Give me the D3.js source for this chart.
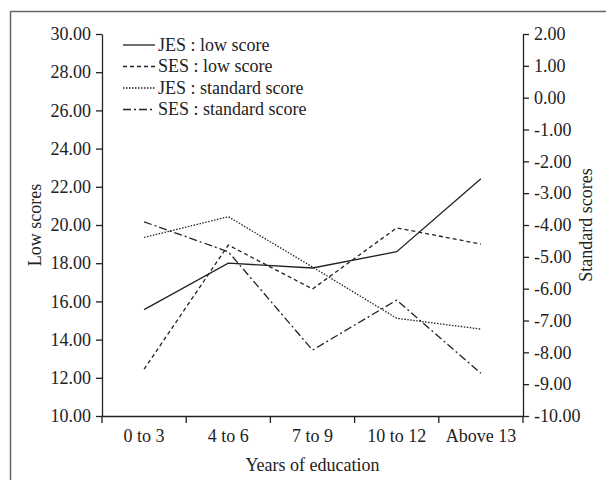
<html>
<head>
<meta charset="utf-8">
<script src="https://d3js.org/d3.v7.min.js"></script>
<style>
body { margin: 0; background: #fff; }
svg { display: block; }
svg text { font-family: 'Liberation Serif', 'Times New Roman', serif; fill: #222; }
</style>
</head>
<body>
<div id="chart"></div>
<script>
var categories = ["0 to 3", "4 to 6", "7 to 9", "10 to 12", "Above 13"];
var jesLow = [15.57, 18.0, 17.75, 18.6, 22.42];
var sesLow = [12.45, 18.95, 16.65, 19.85, 19.0];
var jesStd = [-4.39, -3.74, -5.32, -6.93, -7.27];
var sesStd = [-3.9, -4.84, -7.93, -6.36, -8.66];
var leftTicks = [10, 12, 14, 16, 18, 20, 22, 24, 26, 28, 30];
var rightTicks = [-10, -9, -8, -7, -6, -5, -4, -3, -2, -1, 0, 1, 2];
var legendLabels = ["JES : low score", "SES : low score", "JES : standard score", "SES : standard score"];

var width = 606, height = 480;
var plotLeft = 102, plotRight = 523, plotTop = 34, plotBottom = 416;
var fontSize = "18px";

var svg = d3.select("#chart").append("svg")
  .attr("width", width).attr("height", height);

// grey frame round the figure (top and left edges are in view)
svg.append("line")
  .attr("x1", 10).attr("x2", width).attr("y1", 11.5).attr("y2", 11.5)
  .style("stroke", "#666").style("stroke-width", 1.5);
svg.append("line")
  .attr("x1", 10.5).attr("x2", 10.5).attr("y1", 11).attr("y2", height)
  .style("stroke", "#666").style("stroke-width", 1.5);

var xScale = d3.scaleBand().domain(categories).range([plotLeft, plotRight]);
var yLeft = d3.scaleLinear().domain([10, 30]).range([plotBottom, plotTop]);
var yRight = d3.scaleLinear().domain([-10, 2]).range([plotBottom, plotTop]);

// plain hyphen for negatives, as in the original
var fmt = function (d) { return d3.format(".2f")(d).replace("\u2212", "-"); };

var gl = svg.append("g").attr("transform", "translate(" + plotLeft + ",0)")
  .call(d3.axisLeft(yLeft).tickValues(leftTicks).tickFormat(fmt).tickSize(6).tickSizeOuter(0).tickPadding(5));
var gr = svg.append("g").attr("transform", "translate(" + plotRight + ",0)")
  .call(d3.axisRight(yRight).tickValues(rightTicks).tickFormat(fmt).tickSize(6).tickSizeOuter(0).tickPadding(5));
var gx = svg.append("g").attr("transform", "translate(0," + plotBottom + ")")
  .call(d3.axisBottom(xScale).tickSize(0).tickPadding(13));

// x ticks sit on the band edges
gx.selectAll(".edge").data(d3.range(categories.length + 1)).enter().append("line")
  .attr("x1", function (i) { return plotLeft + i * xScale.step(); })
  .attr("x2", function (i) { return plotLeft + i * xScale.step(); })
  .attr("y1", 0).attr("y2", 7)
  .style("stroke", "#222").style("stroke-width", 1.3);

[gl, gr, gx].forEach(function (g) {
  g.selectAll("path.domain").style("stroke", "#222").style("stroke-width", 1.3);
  g.selectAll(".tick line").style("stroke", "#222").style("stroke-width", 1.3);
  g.selectAll("text").style("font-size", fontSize).style("font-family", "'Liberation Serif', serif").style("fill", "#222");
});

var cx = function (d, i) { return xScale(categories[i]) + xScale.bandwidth() / 2; };

var series = [
  { values: jesLow, scale: yLeft, dash: null },
  { values: sesLow, scale: yLeft, dash: "4,3" },
  { values: jesStd, scale: yRight, dash: "1.5,1.5" },
  { values: sesStd, scale: yRight, dash: "8,3,2,3" }
];

series.forEach(function (s) {
  var line = d3.line().x(cx).y(function (d) { return s.scale(d); });
  svg.append("path").datum(s.values)
    .attr("d", line)
    .style("fill", "none").style("stroke", "#222").style("stroke-width", 1.3)
    .style("stroke-dasharray", s.dash);
});

// legend
var leg = svg.append("g");
legendLabels.forEach(function (label, i) {
  var y = 45 + i * 21.5;
  leg.append("line")
    .attr("x1", 123).attr("x2", 155).attr("y1", y).attr("y2", y)
    .style("stroke", "#222").style("stroke-width", 1.3)
    .style("stroke-dasharray", series[i].dash);
  leg.append("text").attr("x", 158).attr("y", y).attr("dy", "0.32em")
    .style("font-size", fontSize).text(label);
});

svg.append("text").attr("transform", "translate(41,225) rotate(-90)")
  .attr("text-anchor", "middle").style("font-size", fontSize).text("Low scores");
svg.append("text").attr("transform", "translate(592,225) rotate(-90)")
  .attr("text-anchor", "middle").style("font-size", fontSize).text("Standard scores");
svg.append("text").attr("x", (plotLeft + plotRight) / 2).attr("y", 471)
  .attr("text-anchor", "middle").style("font-size", fontSize).text("Years of education");
</script>
</body>
</html>
